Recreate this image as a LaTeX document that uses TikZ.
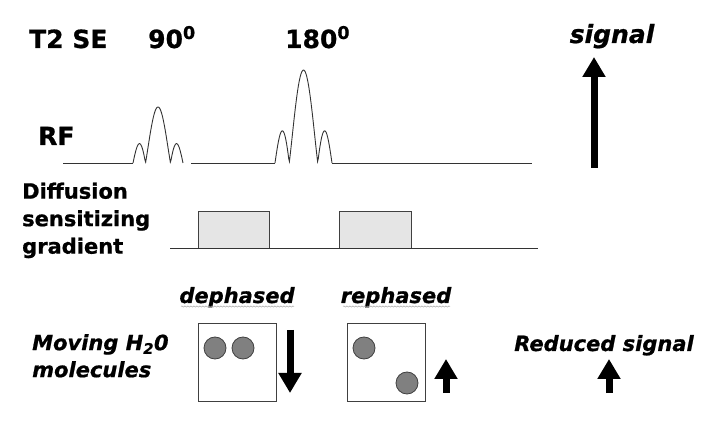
\documentclass[tikz,border=0pt]{standalone}
\usepackage{fontspec}
\setmainfont{DejaVu Sans}[BoldFeatures={FakeBold=0.8}, BoldItalicFeatures={FakeBold=0.8}]
\usetikzlibrary{arrows.meta,decorations.pathmorphing}

\tikzset{
    ttl/.style = {font=\bfseries\fontsize{25}{30}\selectfont, inner sep=0pt},
    lbl/.style = {font=\bfseries\fontsize{21}{27.5}\selectfont, inner sep=0pt, align=left},
    itl/.style = {font=\bfseries\itshape\fontsize{21}{27}\selectfont, inner sep=0pt, align=left},
    wave/.style = {draw=black!80, line width=0.9pt},
    lobe/.style = {draw=black!75, fill=black!10, line width=1pt},
    voxel/.style = {draw=black!75, line width=0.8pt, minimum size=78pt, inner sep=0pt},
    spin/.style = {circle, draw=black!75, fill=black!50, line width=0.8pt, minimum size=22pt, inner sep=0pt},
    bigarrow/.style = {line width=7pt, -{Triangle[width=22pt,length=20pt]}},
    squiggle/.style = {draw=black!35, line width=0.5pt, decorate,
        decoration={snake, amplitude=0.6pt, segment length=3pt}}
}

% sinc shaped rf pulse: centre, half width, height, baseline
\newcommand{\rfpulse}[4]{%
    \draw[wave] plot[domain=-2:2, samples=80]
        ({#1+#2/2*\x}, {#4-#3*abs(sin(180*\x)/(pi*\x))*(1+0.28*\x*\x)});
}

\begin{document}
\begin{tikzpicture}[x=1pt, y=-1pt]
    \useasboundingbox (0,0) rectangle (720,427);

    % titles
    \node[ttl, anchor=base west] (seq) at (29,48) {T2 SE};
    \node[ttl, anchor=base west] (flip90) at (148,48) {90\textsuperscript{0}};
    \node[ttl, anchor=base west] (flip180) at (285,48) {180\textsuperscript{0}};
    \node[ttl, anchor=base, font=\bfseries\itshape\fontsize{25}{30}\selectfont] (sig) at (612,43) {signal};

    % rf line
    \node[ttl, anchor=base west] (rf) at (38,145) {RF};
    \draw[wave] (63,163) -- (133,163);
    \rfpulse{158}{25}{56}{163}
    \draw[wave] (191,163) -- (275,163);
    \rfpulse{303.5}{28.5}{93}{163}
    \draw[wave] (332,163) -- (532,163);

    \coordinate (sigfoot) at (594,168);
    \coordinate (sigtop) at (594,57);
    \draw[bigarrow] (sigfoot) -- (sigtop);

    % diffusion gradient
    \node[lbl, anchor=north west] (grad) at (22,182.5) {Diffusion\\sensitizing\\gradient};
    \filldraw[lobe] (198,248) -- (198,212) -- (269,212) -- (269,248);
    \filldraw[lobe] (339,248) -- (339,212) -- (411,212) -- (411,248);
    \draw[wave] (170,248) -- (538,248);

    % molecules
    \node[itl, anchor=north west] (mol) at (32,334) {Moving H\textsubscript{2}0\\molecules};

    \node[itl, anchor=base] (deph) at (237,303) {dephased};
    \node[itl, anchor=base] (reph) at (396,303) {rephased};
    \draw[squiggle] (181,306.5) -- (294,306.5);
    \draw[squiggle] (343,306.5) -- (450,306.5);

    \node[voxel] (boxd) at (237,362) {};
    \node[spin] (d1) at (215,348) {};
    \node[spin] (d2) at (243,348) {};
    \coordinate (dtop) at (290,330);
    \coordinate (dbot) at (290,393);
    \draw[bigarrow] (dtop) -- (dbot);

    \node[voxel] (boxr) at (386,362) {};
    \node[spin] (r1) at (364,348) {};
    \node[spin] (r2) at (407,383) {};
    \coordinate (rbot) at (446,393);
    \coordinate (rtop) at (446,359);
    \draw[bigarrow] (rbot) -- (rtop);

    \node[itl, anchor=base] (reduced) at (604,351) {Reduced signal};
    \coordinate (redbot) at (609,393);
    \coordinate (redtop) at (609,359);
    \draw[bigarrow] (redbot) -- (redtop);
\end{tikzpicture}
\end{document}
